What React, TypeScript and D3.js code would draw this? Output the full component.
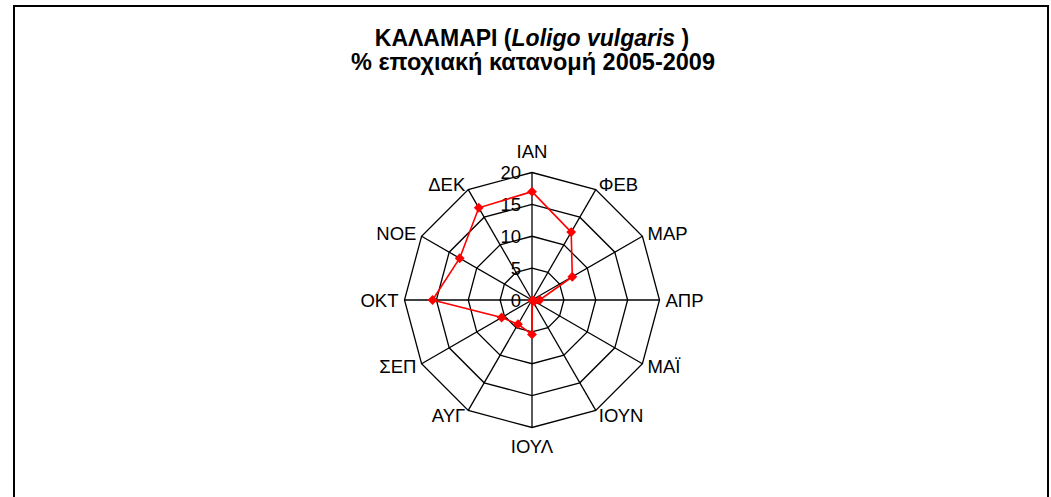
import React from "react";
import * as d3 from "d3";

const months = ["ΙΑΝ", "ΦΕΒ", "ΜΑΡ", "ΑΠΡ", "ΜΑΪ", "ΙΟΥΝ", "ΙΟΥΛ", "ΑΥΓ", "ΣΕΠ", "ΟΚΤ", "ΝΟΕ", "ΔΕΚ"];
const values = [17.0, 12.3, 7.3, 1.2, 0.4, 0.1, 5.4, 4.4, 5.5, 15.6, 13.1, 16.7];
const ticks = [0, 5, 10, 15, 20];

const W = 1051, H = 497;
const cx = 532, cy = 300, R = 127.5;

export default function App() {
  const r = d3.scaleLinear().domain([0, 20]).range([0, R]);
  const ang = d3.scalePoint<string>().domain(months).range([0, 2 * Math.PI * (11 / 12)]);
  const pt = (m: string, v: number): [number, number] => {
    const a = ang(m)!;
    return [cx + r(v) * Math.sin(a), cy - r(v) * Math.cos(a)];
  };
  const ringPath = (v: number) =>
    d3.line()(months.map((m) => pt(m, v)).concat([pt(months[0], v)])) || "";
  const dataPath = d3.line()(months.map((m, i) => pt(m, values[i])).concat([pt(months[0], values[0])])) || "";
  const diamond = d3.symbol().type(d3.symbolDiamond2).size(62)() || "";
  const font = "'Liberation Sans', Arial, sans-serif";

  return (
    <svg width={W} height={H} style={{ position: "absolute", left: 0, top: 0, background: "#fff" }}>
      <rect x={14} y={6} width={1034} height={520} fill="#fff" stroke="#000" strokeWidth={2} />
      <text x={532} y={45.5} textAnchor="middle" fontFamily={font} fontWeight="bold" fontSize={23}>
        ΚΑΛΑΜΑΡΙ (<tspan fontStyle="italic">Loligo vulgaris</tspan> )
      </text>
      <text x={533} y={69.5} textAnchor="middle" fontFamily={font} fontWeight="bold" fontSize={23.5}>
        % εποχιακή κατανομή 2005-2009
      </text>
      {ticks.slice(1).map((t) => (
        <path key={t} d={ringPath(t)} fill="none" stroke="#000" strokeWidth={1.3} />
      ))}
      {months.map((m) => {
        const [x, y] = pt(m, 20);
        return <line key={m} x1={cx} y1={cy} x2={x} y2={y} stroke="#000" strokeWidth={1.3} />;
      })}
      {ticks.map((t) => (
        <text key={t} x={cx - 11} y={cy - r(t)} textAnchor="end" dominantBaseline="central" fontFamily={font} fontSize={18.5}>
          {t}
        </text>
      ))}
      {months.map((m) => {
        const a = ang(m)!;
        const s = Math.sin(a), c = Math.cos(a);
        const x = cx + (R + 6) * s;
        let y = cy - (R + 6) * c;
        if (c > 0.99) y -= 15.5;
        else if (c < -0.99) y += 12.5;
        const anchor = Math.abs(s) < 0.01 ? "middle" : s > 0 ? "start" : "end";
        return (
          <text key={m} x={x} y={y} textAnchor={anchor} dominantBaseline="central" fontFamily={font} fontSize={18.5}>
            {m}
          </text>
        );
      })}
      <path d={dataPath} fill="none" stroke="#ff0000" strokeWidth={1.6} />
      {months.map((m, i) => {
        const [x, y] = pt(m, values[i]);
        return <path key={m} d={diamond} transform={`translate(${x},${y})`} fill="#ff0000" />;
      })}
    </svg>
  );
}
